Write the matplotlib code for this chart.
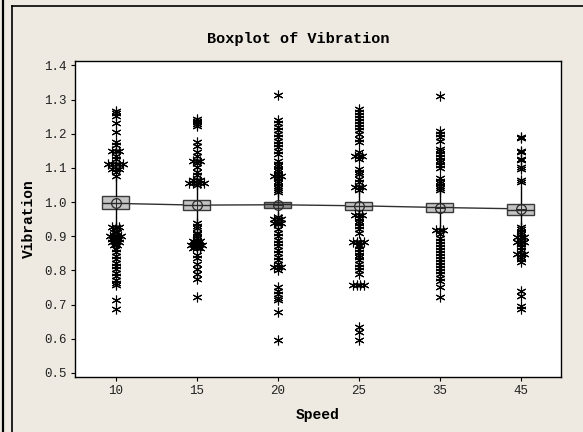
import matplotlib
matplotlib.use("Agg")
import matplotlib.pyplot as plt
from matplotlib.lines import Line2D
from collections import Counter

# ---- data -------------------------------------------------------------
speeds = ["10", "15", "20", "25", "35", "45"]

q1 = [0.980, 0.978, 0.983, 0.976, 0.971, 0.963]
median = [0.998, 0.990, 0.993, 0.988, 0.985, 0.978]
q3 = [1.017, 1.005, 1.001, 1.001, 0.998, 0.995]
means = [0.996, 0.991, 0.992, 0.989, 0.984, 0.980]
whisker_low = [0.935, 0.945, 0.960, 0.968, 0.930, 0.935]
whisker_high = [1.070, 1.045, 1.025, 1.030, 1.030, 1.045]

outliers_10 = [1.265, 1.260, 1.253, 1.232, 1.205, 1.176, 1.166,
               1.148, 1.148, 1.148, 1.136, 1.127,
               1.110, 1.110, 1.110, 1.110, 1.110, 1.098, 1.098, 1.098, 1.088, 1.076,
               0.927, 0.927, 0.927, 0.912, 0.912, 0.902, 0.902, 0.902, 0.902,
               0.893, 0.893, 0.893, 0.883, 0.883, 0.883, 0.873, 0.873,
               0.863, 0.853, 0.843, 0.833, 0.823, 0.813, 0.803, 0.793, 0.783,
               0.773, 0.763, 0.757, 0.712, 0.688]
outliers_15 = [1.243, 1.238, 1.233, 1.228, 1.223, 1.175, 1.164, 1.146, 1.136,
               1.120, 1.120, 1.120, 1.113, 1.103, 1.088, 1.078,
               1.065, 1.065, 1.065, 1.055, 1.055, 1.055, 1.055, 1.055, 1.050,
               0.940, 0.930, 0.925, 0.910, 0.905, 0.900, 0.895,
               0.885, 0.885, 0.885, 0.875, 0.875, 0.875, 0.875, 0.865, 0.865, 0.865,
               0.845, 0.835, 0.820, 0.805, 0.790, 0.775, 0.722]
outliers_20 = [1.312, 1.239, 1.230, 1.220, 1.210, 1.200, 1.190, 1.180, 1.170,
               1.160, 1.150, 1.140, 1.120, 1.112, 1.105, 1.098, 1.090, 1.083,
               1.076, 1.076, 1.076, 1.070, 1.062, 1.055, 1.048, 1.041, 1.034, 1.028,
               0.955, 0.950, 0.950, 0.950, 0.940, 0.940, 0.940, 0.935, 0.920,
               0.910, 0.900, 0.890, 0.880, 0.870, 0.860, 0.850, 0.840, 0.830,
               0.820, 0.810, 0.810, 0.810, 0.800, 0.750, 0.740, 0.730, 0.720,
               0.713, 0.678, 0.595]
outliers_25 = [1.273, 1.264, 1.255, 1.246, 1.237, 1.228, 1.219, 1.210, 1.200,
               1.185, 1.175, 1.146, 1.136, 1.136, 1.136, 1.125, 1.097, 1.088,
               1.083, 1.068, 1.058, 1.044, 1.044, 1.044, 1.036,
               0.961, 0.961, 0.961, 0.952, 0.945, 0.938, 0.930, 0.920, 0.910,
               0.883, 0.883, 0.883, 0.883, 0.875, 0.870, 0.863, 0.855, 0.846,
               0.838, 0.830, 0.820, 0.810, 0.800, 0.790,
               0.756, 0.756, 0.756, 0.756, 0.634, 0.620, 0.595]
outliers_35 = [1.309, 1.208, 1.199, 1.190, 1.180, 1.155, 1.148, 1.140, 1.132,
               1.124, 1.116, 1.108, 1.100, 1.070, 1.062, 1.055, 1.048, 1.040, 1.035,
               0.917, 0.917, 0.917, 0.905, 0.896, 0.887, 0.878, 0.869, 0.860,
               0.851, 0.842, 0.833, 0.824, 0.815, 0.806, 0.797, 0.788, 0.779,
               0.770, 0.751, 0.722]
outliers_45 = [1.190, 1.187, 1.150, 1.146, 1.127, 1.122, 1.103, 1.098, 1.065, 1.060,
               0.927, 0.920, 0.912, 0.905, 0.898, 0.898, 0.898, 0.890,
               0.883, 0.883, 0.883, 0.876, 0.868, 0.860, 0.849, 0.849, 0.849,
               0.840, 0.832, 0.824, 0.740, 0.726, 0.695, 0.686]
outliers = [outliers_10, outliers_15, outliers_20, outliers_25, outliers_35, outliers_45]

# ---- style ------------------------------------------------------------
BG = "#EEEAE1"
MONO = ["Liberation Mono", "DejaVu Sans Mono"]
box_fills = ["#C4C4C4", "#C4C4C4", "#8E8E8E", "#C4C4C4", "#C4C4C4", "#C4C4C4"]

fig = plt.figure(figsize=(5.83, 4.32), dpi=100, facecolor=BG)
W, H = 583.0, 432.0
ax = fig.add_axes([75 / W, 1 - 377 / H, (561 - 75) / W, (377 - 61) / H])
ax.set_facecolor("white")

positions = list(range(len(speeds)))

# mean connect line, drawn underneath the boxes
ax.plot(positions, means, color="#303030", lw=1.0, zorder=1)

stats = []
for i in positions:
    stats.append(dict(q1=q1[i], med=median[i], q3=q3[i], mean=means[i],
                      whislo=whisker_low[i], whishi=whisker_high[i], fliers=[]))

bp = ax.bxp(stats, positions=positions, widths=0.34, patch_artist=True,
            showmeans=False, showcaps=False, showfliers=False,
            boxprops=dict(edgecolor="#3A3A3A", lw=1.0),
            medianprops=dict(color="#2A2A2A", lw=1.0),
            whiskerprops=dict(color="black", lw=1.0),
            zorder=2)
for patch, fc in zip(bp["boxes"], box_fills):
    patch.set_facecolor(fc)

# mean symbols: open circle with crosshair
ax.plot(positions, means, ls="none", marker="o", ms=7, mfc="none",
        mec="#2A2A2A", mew=0.9, zorder=4)
ax.plot(positions, means, ls="none", marker="+", ms=7, mec="#2A2A2A",
        mew=0.7, zorder=4)

# outliers: tied values are placed side by side
tie_step = 0.045
for i, vals in zip(positions, outliers):
    xs, ys = [], []
    for v, n in Counter(vals).items():
        for k in range(n):
            xs.append(i + (k - (n - 1) / 2) * tie_step)
            ys.append(v)
    ax.plot(xs, ys, ls="none", marker=(6, 2, 0), ms=7, mec="black",
            mew=0.8, zorder=5)

ax.set_xlim(-0.5, 5.5)
ax.set_ylim(0.488, 1.4127)
ax.set_xticks(positions)
ax.set_xticklabels(speeds)
yt = [0.5, 0.6, 0.7, 0.8, 0.9, 1.0, 1.1, 1.2, 1.3, 1.4]
ax.set_yticks(yt)
ax.set_yticklabels([f"{v:.1f}" for v in yt])
ax.tick_params(direction="out", length=3, width=0.8, colors="black",
               labelsize=9, pad=3)
for lab in ax.get_xticklabels() + ax.get_yticklabels():
    lab.set_family(MONO)
    lab.set_color("#222222")
for s in ax.spines.values():
    s.set_color("black")
    s.set_linewidth(1.0)

ax.set_xlabel("Speed", family=MONO, fontweight="bold", fontsize=10.5,
              labelpad=8)
ax.set_ylabel("Vibration", family=MONO, fontweight="bold", fontsize=10.5,
              labelpad=6)
fig.text(298 / W, 1 - 39 / H, "Boxplot of Vibration", family=MONO,
         fontweight="bold", fontsize=11, ha="center", va="center")

# window frame lines
def px_line(x0, y0, x1, y1, lw=1.0):
    fig.add_artist(Line2D([x0 / W, x1 / W], [1 - y0 / H, 1 - y1 / H],
                          transform=fig.transFigure, color="black", lw=lw))

px_line(3, 0, 3, H, lw=1.6)
px_line(11.5, 6, 11.5, H, lw=1.2)
px_line(11.5, 6, W, 6, lw=1.2)

fig.savefig("out.png", dpi=100, facecolor=BG)
